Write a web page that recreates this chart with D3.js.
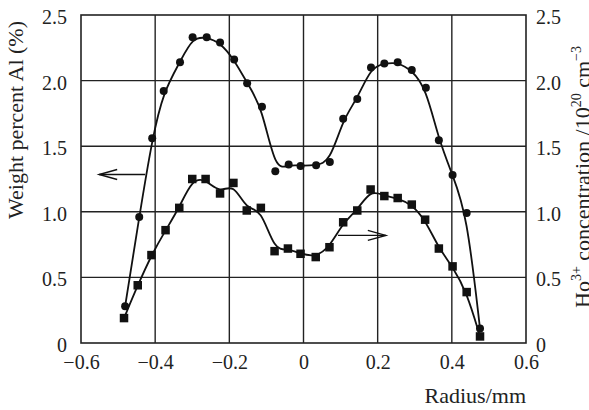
<!DOCTYPE html>
<html>
<head>
<meta charset="utf-8">
<script src="https://cdn.jsdelivr.net/npm/d3@7"></script>
<style>
  body { margin: 0; background: #fff; }
  svg text { font-family: "Liberation Serif", "DejaVu Serif", serif; fill: #222; }
</style>
</head>
<body>
<svg id="chart" width="589" height="410"></svg>
<script>
// Al weight percent (circles), radius in mm
var alRadius = [-0.481, -0.443, -0.408, -0.377, -0.333, -0.299, -0.261, -0.225, -0.187, -0.152, -0.112,
                -0.076, -0.040, -0.008, 0.034, 0.071, 0.107, 0.145, 0.182, 0.218, 0.254, 0.292, 0.330,
                0.365, 0.402, 0.440, 0.476];
var alValues = [0.28, 0.96, 1.56, 1.92, 2.14, 2.33, 2.33, 2.29, 2.16, 1.98, 1.80,
                1.31, 1.36, 1.35, 1.355, 1.38, 1.71, 1.86, 2.10, 2.13, 2.14, 2.08, 1.945,
                1.546, 1.28, 0.99, 0.11];

// Ho3+ concentration (squares)
var hoRadius = [-0.484, -0.447, -0.410, -0.372, -0.335, -0.300, -0.264, -0.225, -0.189, -0.153, -0.115,
                -0.078, -0.042, -0.008, 0.033, 0.070, 0.107, 0.145, 0.181, 0.218, 0.254, 0.292,
                0.328, 0.365, 0.402, 0.440, 0.476];
var hoValues = [0.19, 0.44, 0.67, 0.86, 1.03, 1.25, 1.25, 1.14, 1.22, 1.01, 1.03,
                0.70, 0.72, 0.68, 0.655, 0.73, 0.92, 1.01, 1.17, 1.12, 1.105, 1.055,
                0.94, 0.72, 0.584, 0.388, 0.05];

var xTicks = [-0.6, -0.4, -0.2, 0, 0.2, 0.4, 0.6];
var yTicks = [0, 0.5, 1.0, 1.5, 2.0, 2.5];

var svg = d3.select("#chart");
var plotL = 81, plotR = 526, plotT = 15, plotB = 343;

var x = d3.scaleLinear().domain([-0.6, 0.6]).range([plotL, plotR]);
var y = d3.scaleLinear().domain([0, 2.5]).range([plotB, plotT]);

function fmtX(d) {
  if (d === 0) return "0";
  return (d < 0 ? "\u2212" : "") + Math.abs(d).toFixed(1);
}
function fmtY(d) { return d === 0 ? "0" : d.toFixed(1); }

// grid
var grid = svg.append("g").attr("stroke", "#222").attr("stroke-width", 1.4);
grid.selectAll(".gx").data(xTicks.slice(1, -1)).enter().append("line")
    .attr("x1", x).attr("x2", x).attr("y1", plotT).attr("y2", plotB);
grid.selectAll(".gy").data(yTicks.slice(1, -1)).enter().append("line")
    .attr("y1", y).attr("y2", y).attr("x1", plotL).attr("x2", plotR);

svg.append("rect")
    .attr("x", plotL).attr("y", plotT)
    .attr("width", plotR - plotL).attr("height", plotB - plotT)
    .attr("fill", "none").attr("stroke", "#222").attr("stroke-width", 1.6);

// axes (labels only)
var axL = svg.append("g").attr("transform", "translate(" + plotL + ",0)")
    .call(d3.axisLeft(y).tickValues(yTicks).tickFormat(fmtY).tickSize(0).tickPadding(14));
var axR = svg.append("g").attr("transform", "translate(" + plotR + ",0)")
    .call(d3.axisRight(y).tickValues(yTicks).tickFormat(fmtY).tickSize(0).tickPadding(10));
var axB = svg.append("g").attr("transform", "translate(0," + plotB + ")")
    .call(d3.axisBottom(x).tickValues(xTicks).tickFormat(fmtX).tickSize(0).tickPadding(12));
[axL, axR, axB].forEach(function(a) {
  a.select(".domain").remove();
  a.selectAll("text").attr("font-size", 20).attr("font-family", "Liberation Serif").attr("fill", "#222");
});
axL.selectAll("text").attr("dy", "0.42em");
axR.selectAll("text").attr("dy", "0.42em");
axB.selectAll("text").attr("dy", "0.68em");

// curves
var alData = alRadius.map(function(r, i) { return [r, alValues[i]]; });
var hoData = hoRadius.map(function(r, i) { return [r, hoValues[i]]; });

var line = d3.line().x(function(d) { return x(d[0]); }).y(function(d) { return y(d[1]); })
    .curve(d3.curveBasis);

svg.append("path").datum(alData).attr("d", line)
    .attr("fill", "none").attr("stroke", "#111").attr("stroke-width", 1.8);
svg.append("path").datum(hoData).attr("d", line)
    .attr("fill", "none").attr("stroke", "#111").attr("stroke-width", 1.8);

svg.selectAll(".al").data(alData).enter().append("circle")
    .attr("cx", function(d) { return x(d[0]); })
    .attr("cy", function(d) { return y(d[1]); })
    .attr("r", 4).attr("fill", "#111");

var sq = 8.5;
svg.selectAll(".ho").data(hoData).enter().append("rect")
    .attr("x", function(d) { return x(d[0]) - sq / 2; })
    .attr("y", function(d) { return y(d[1]) - sq / 2; })
    .attr("width", sq).attr("height", sq).attr("fill", "#111");

// arrows
function arrow(x0, x1, v) {
  var g = svg.append("g").attr("stroke", "#111").attr("stroke-width", 1.4).attr("fill", "none");
  var yy = y(v), xa = x(x0), xb = x(x1), dir = xb > xa ? -1 : 1;
  g.append("line").attr("x1", xa).attr("x2", xb).attr("y1", yy).attr("y2", yy);
  g.append("path").attr("d", "M" + (xb + dir * 18) + "," + (yy - 5) + "L" + xb + "," + yy +
      "L" + (xb + dir * 18) + "," + (yy + 5));
}
arrow(-0.427, -0.551, 1.284);
arrow(0.093, 0.222, 0.82);

// axis titles
svg.append("text")
    .attr("transform", "translate(23,120) rotate(-90)")
    .attr("text-anchor", "middle").attr("font-size", 22)
    .text("Weight percent Al (%)");

var rt = svg.append("text")
    .attr("transform", "translate(590,308) rotate(-90)")
    .attr("text-anchor", "start").attr("font-size", 22);
rt.append("tspan").text("Ho");
rt.append("tspan").attr("font-size", 14).attr("dy", -9).text("3+");
rt.append("tspan").attr("dy", 9).text(" concentration /10");
rt.append("tspan").attr("font-size", 14).attr("dy", -9).text("20");
rt.append("tspan").attr("dy", 9).text(" cm");
rt.append("tspan").attr("font-size", 14).attr("dy", -9).text("\u22123");

svg.append("text")
    .attr("x", 526).attr("y", 403)
    .attr("text-anchor", "end").attr("font-size", 22)
    .text("Radius/mm");
</script>
</body>
</html>
